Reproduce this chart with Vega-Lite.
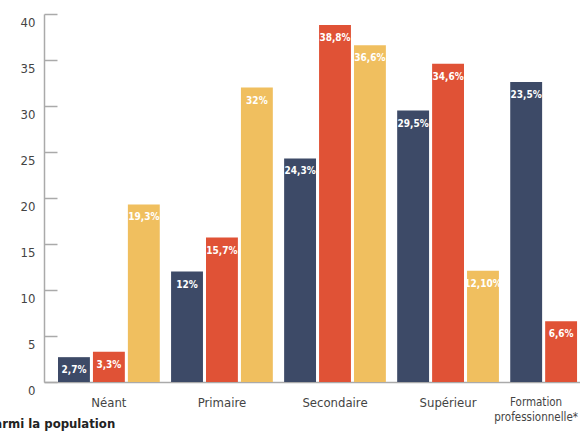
{
  "$schema": "https://vega.github.io/schema/vega-lite/v6.json",
  "width": 536,
  "height": 368,
  "autosize": {"type": "none"},
  "padding": {"left": 44, "top": 14, "right": 0, "bottom": 49},
  "background": "white",
  "config": {
    "font": "DejaVu Sans Condensed, Liberation Sans, sans-serif",
    "view": {"stroke": null}
  },
  "title": {
    "text": "parmi la population",
    "orient": "bottom",
    "anchor": "start",
    "frame": "group",
    "dx": -58,
    "dy": -7,
    "offset": 2,
    "fontSize": 13,
    "fontWeight": "bold",
    "color": "#222222",
    "font": "DejaVu Sans Condensed, Liberation Sans, sans-serif"
  },
  "data": {
    "values": [
      {"niveau": "Néant", "serie": "A", "valeur": 2.7, "label": "2,7%"},
      {"niveau": "Néant", "serie": "B", "valeur": 3.3, "label": "3,3%"},
      {"niveau": "Néant", "serie": "C", "valeur": 19.3, "label": "19,3%"},
      {"niveau": "Primaire", "serie": "A", "valeur": 12.0, "label": "12%"},
      {"niveau": "Primaire", "serie": "B", "valeur": 15.7, "label": "15,7%"},
      {"niveau": "Primaire", "serie": "C", "valeur": 32.0, "label": "32%"},
      {"niveau": "Secondaire", "serie": "A", "valeur": 24.3, "label": "24,3%"},
      {"niveau": "Secondaire", "serie": "B", "valeur": 38.8, "label": "38,8%"},
      {"niveau": "Secondaire", "serie": "C", "valeur": 36.6, "label": "36,6%"},
      {"niveau": "Supérieur", "serie": "A", "valeur": 29.5, "label": "29,5%"},
      {"niveau": "Supérieur", "serie": "B", "valeur": 34.6, "label": "34,6%"},
      {"niveau": "Supérieur", "serie": "C", "valeur": 12.1, "label": "12,10%"},
      {"niveau": "Formation professionnelle*", "serie": "A", "valeur": 32.6, "label": "23,5%"},
      {"niveau": "Formation professionnelle*", "serie": "B", "valeur": 6.6, "label": "6,6%"}
    ]
  },
  "encoding": {
    "x": {
      "field": "niveau",
      "type": "nominal",
      "sort": null,
      "scale": {"range": [0, 582], "paddingInner": 0.1, "paddingOuter": 0.124},
      "axis": {
        "title": null,
        "labelAngle": 0,
        "ticks": false,
        "domainColor": "#aaaaaa",
        "domainWidth": 1.5,
        "labelColor": "#444444",
        "labelFontSize": {"condition": {"test": "datum.value == 'Formation professionnelle*'", "value": 11.5}, "value": 13},
        "labelPadding": 14,
        "labelLineHeight": 15,
        "labelOffset": {"condition": {"test": "datum.value == 'Formation professionnelle*'", "value": -25}, "value": 0},
        "labelExpr": "datum.label == 'Formation professionnelle*' ? ['Formation', 'professionnelle*'] : datum.label"
      }
    },
    "xOffset": {
      "field": "serie",
      "type": "nominal",
      "scale": {"paddingInner": 0.087, "paddingOuter": 0}
    },
    "y": {
      "field": "valeur",
      "type": "quantitative",
      "scale": {"domain": [0, 40], "nice": false},
      "axis": {
        "title": null,
        "values": [0, 5, 10, 15, 20, 25, 30, 35, 40],
        "grid": false,
        "domainColor": "#aaaaaa",
        "domainWidth": 1.5,
        "tickColor": "#aaaaaa",
        "tickWidth": 1.5,
        "tickSize": -13,
        "labelPadding": 22,
        "labelBaseline": "top",
        "labelOffset": 2,
        "labelColor": "#444444",
        "labelFontSize": 13
      }
    }
  },
  "layer": [
    {
      "mark": {"type": "bar"},
      "encoding": {
        "color": {
          "field": "serie",
          "type": "nominal",
          "scale": {"domain": ["A", "B", "C"], "range": ["#3d4a67", "#e05236", "#f0bf5f"]},
          "legend": null
        }
      }
    },
    {
      "mark": {"type": "text", "baseline": "middle", "dy": 13, "color": "white", "fontWeight": "bold", "fontSize": 10, "font": "DejaVu Sans Condensed, Liberation Sans, sans-serif"},
      "encoding": {
        "text": {"field": "label", "type": "nominal"}
      }
    }
  ]
}
